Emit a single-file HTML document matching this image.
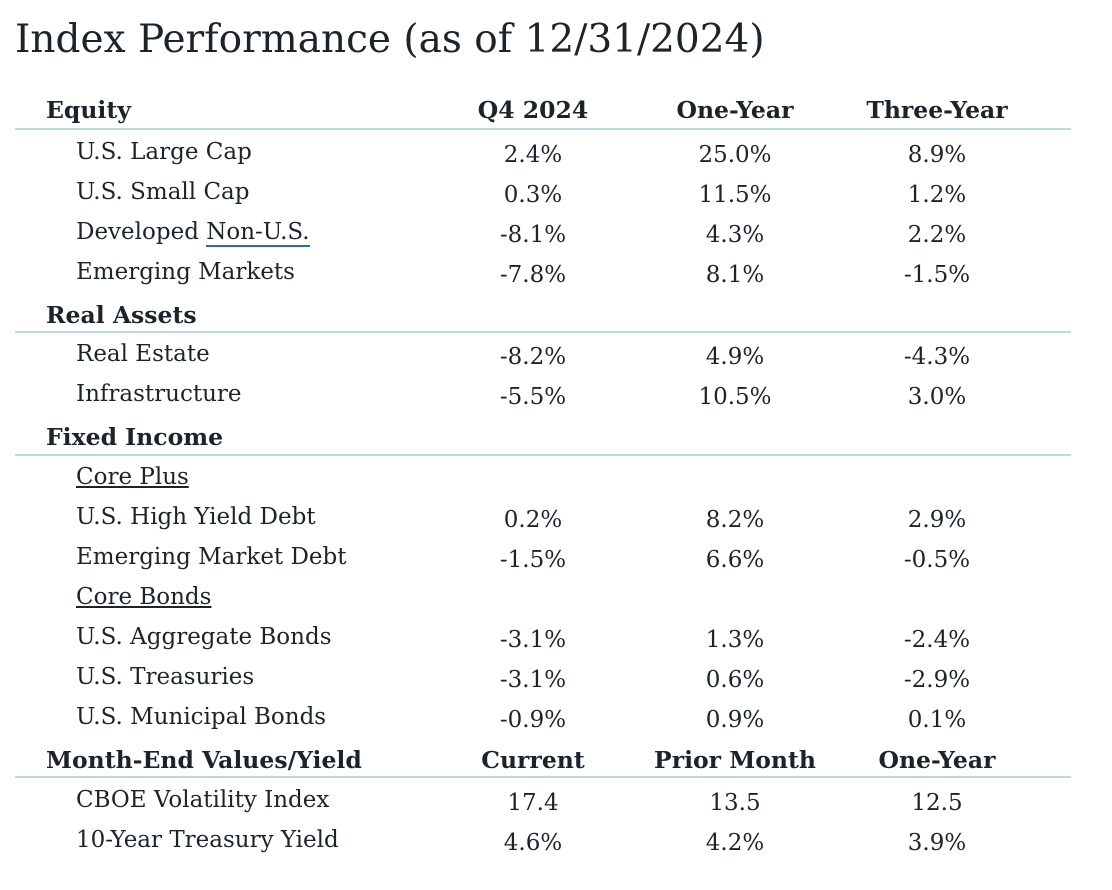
<!DOCTYPE html>
<html><head><meta charset="utf-8"><style>
body{margin:0;width:1112px;height:890px;background:#fff;position:relative;overflow:hidden;font-family:"DejaVu Serif","Liberation Serif",serif;color:#1c242b}
.t{position:absolute;white-space:nowrap;line-height:30px;height:30px;font-size:23px}
.b{font-weight:bold;font-size:23.5px}
.c{text-align:center;width:200px}
.l{position:absolute;left:15px;width:1056px;height:2px;background:#b9dbe4}
u.d{text-decoration:none;border-bottom:2px solid #2a62d8;padding-bottom:0}
</style></head><body>
<div class="t" style="left:15px;top:15px;height:50px;line-height:50px;font-size:39px">Index Performance (as of 12/31/2024)</div>
<div class="l" style="top:128px"></div>
<div class="l" style="top:331px"></div>
<div class="l" style="top:454px"></div>
<div class="l" style="top:776px"></div>
<div id="rows"></div>
<script>
const R=[
["Equity",110,1,["Q4 2024","One-Year","Three-Year"]],
["U.S. Large Cap",152,0,["2.4%","25.0%","8.9%"]],
["U.S. Small Cap",192,0,["0.3%","11.5%","1.2%"]],
["Developed <u class='d'>Non-U.S.</u>",232,0,["-8.1%","4.3%","2.2%"]],
["Emerging Markets",272,0,["-7.8%","8.1%","-1.5%"]],
["Real Assets",315,1,[]],
["Real Estate",354,0,["-8.2%","4.9%","-4.3%"]],
["Infrastructure",394,0,["-5.5%","10.5%","3.0%"]],
["Fixed Income",437,1,[]],
["<u>Core Plus</u>",477,0,[]],
["U.S. High Yield Debt",517,0,["0.2%","8.2%","2.9%"]],
["Emerging Market Debt",557,0,["-1.5%","6.6%","-0.5%"]],
["<u>Core Bonds</u>",597,0,[]],
["U.S. Aggregate Bonds",637,0,["-3.1%","1.3%","-2.4%"]],
["U.S. Treasuries",677,0,["-3.1%","0.6%","-2.9%"]],
["U.S. Municipal Bonds",717,0,["-0.9%","0.9%","0.1%"]],
["Month-End Values/Yield",760,1,["Current","Prior Month","One-Year"]],
["CBOE Volatility Index",800,0,["17.4","13.5","12.5"]],
["10-Year Treasury Yield",840,0,["4.6%","4.2%","3.9%"]]];
const X=[533,735,937];let h="";
for(const [n,y,b,v] of R){
h+=`<div class="t${b?' b':''}" style="left:${b?46:76}px;top:${y-15}px">${n}</div>`;
v.forEach((s,i)=>{h+=`<div class="t c${b?' b':''}" style="left:${X[i]-100}px;top:${y-15+(b?0:3)}px">${s}</div>`});}
document.getElementById("rows").innerHTML=h;
</script>
</body></html>
